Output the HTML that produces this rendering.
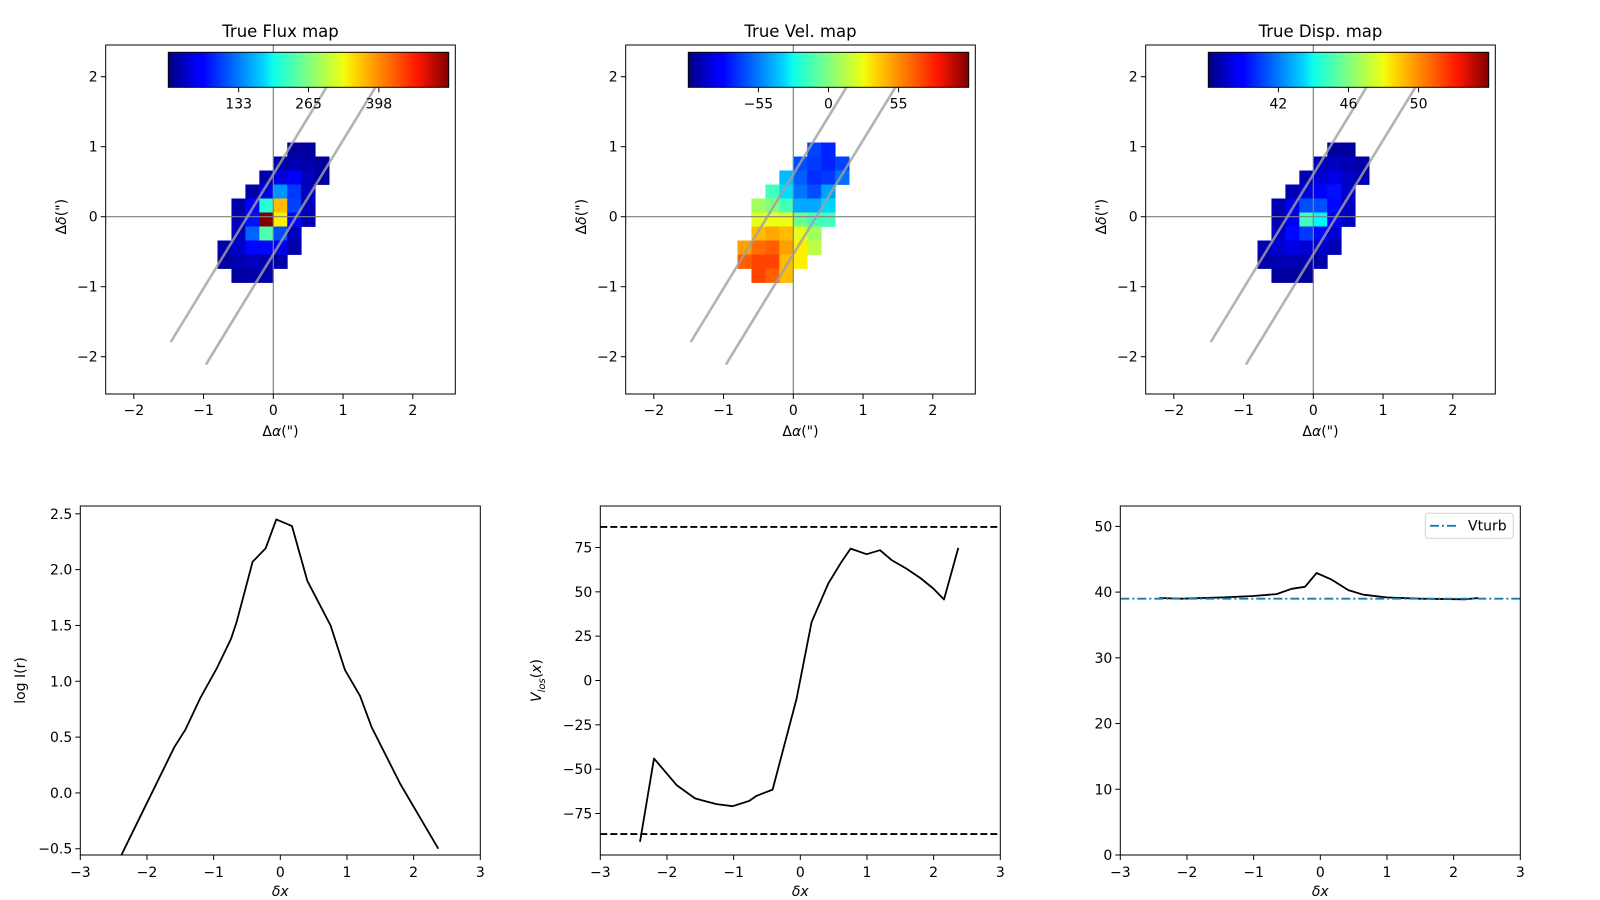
<!DOCTYPE html>
<html><head><meta charset="utf-8"><style>
html,body{margin:0;padding:0;background:#fff;}
svg{display:block;font-family:"DejaVu Sans","Liberation Sans",sans-serif;}
</style></head><body>
<svg id="fig" width="1600" height="900" viewBox="0 0 1600 900" xmlns="http://www.w3.org/2000/svg">
<defs>
<linearGradient id="jetgrad" x1="0" y1="0" x2="1" y2="0">
<stop offset="0" stop-color="#000080"/><stop offset="0.11" stop-color="#0000ff"/><stop offset="0.125" stop-color="#0000ff"/>
<stop offset="0.34" stop-color="#00d4ff"/><stop offset="0.375" stop-color="#0dffea"/><stop offset="0.5" stop-color="#80ff80"/><stop offset="0.625" stop-color="#f0ff0d"/>
<stop offset="0.66" stop-color="#ffdb00"/><stop offset="0.89" stop-color="#ff1400"/><stop offset="1" stop-color="#800000"/>
</linearGradient>
</defs>
</svg>
<script>
// ---- data ----
const n = null;
const fluxGrid = [
 [n,n,n,n,n,16,16,n],
 [n,n,n,n,21,26,21,16],
 [n,n,n,21,48,64,32,16],
 [n,n,21,53,143,95,32,n],
 [n,21,64,220,366,100,32,n],
 [n,32,74,530,340,69,26,n],
 [n,32,117,240,106,32,n,n],
 [21,40,69,69,60,21,n,n],
 [16,26,32,26,21,n,n,n],
 [n,16,21,21,n,n,n,n]];
const velGrid = [
 [n,n,n,n,n,-68,-75,n],
 [n,n,n,n,-66,-70,-75,-68],
 [n,n,n,-42,-62,-73,-70,-58],
 [n,n,-13,-35,-57,-66,-48,n],
 [n,7,0,-13,-46,-46,-37,n],
 [n,22,24,24,-4,-13,-13,n],
 [n,42,46,42,22,7,n,n],
 [48,59,62,48,31,13,n,n],
 [62,68,68,42,31,n,n,n],
 [n,68,62,42,n,n,n,n]];
const dispGrid = [
 [n,n,n,n,n,38.5,38.5,n],
 [n,n,n,n,38.8,39,38.8,38.6],
 [n,n,n,38.8,39.3,39.6,39.1,38.8],
 [n,n,38.8,39.4,40.0,40.2,39.1,n],
 [n,38.8,39.6,41.2,41.2,40.1,39.1,n],
 [n,38.8,39.9,45.0,43.9,39.9,39.0,n],
 [n,39.1,40.1,40.9,40.1,39.3,n,n],
 [38.8,39.3,39.6,39.3,39.1,38.8,n,n],
 [38.6,38.8,38.8,38.8,38.6,n,n,n],
 [n,38.5,38.5,38.5,n,n,n,n]];
const fluxRange = [0,530], velRange = [-110,110], dispRange = [38,54];
const fluxCbTicks = [133,265,398], velCbTicks = [-55,0,55], dispCbTicks = [42,46,50];
const mapTicks = [-2,-1,0,1,2];

const profX = [-2.42,-2.19,-1.59,-1.42,-1.2,-0.95,-0.74,-0.655,-0.415,-0.22,-0.06,0.175,0.405,0.755,0.97,1.195,1.37,1.8,2.37];
const logI  = [-0.6,-0.32,0.41,0.57,0.85,1.12,1.38,1.53,2.07,2.19,2.45,2.39,1.90,1.50,1.10,0.87,0.59,0.08,-0.50];
const velX = [-2.405,-2.195,-1.855,-1.58,-1.43,-1.255,-1.015,-0.765,-0.655,-0.415,-0.055,0.17,0.42,0.62,0.755,0.995,1.195,1.37,1.585,1.8,1.995,2.155,2.37];
const velV = [-91,-44,-59,-66.5,-68,-69.7,-70.9,-67.9,-65,-61.5,-10.2,33,54.7,67,74.4,71.2,73.5,67.9,63.2,57.8,51.9,45.7,74.8];
const velLimits = [86.6,-86.6];
const dispX = [-2.415,-2.08,-1.455,-1.005,-0.655,-0.43,-0.23,-0.055,0.17,0.42,0.645,0.995,1.495,2.17,2.37];
const dispD = [39.1,39.0,39.2,39.4,39.7,40.5,40.8,42.9,41.9,40.3,39.6,39.2,39.0,38.9,39.1];
const vturb = 39.0;
const xTicksBottom = [-3,-2,-1,0,1,2,3];
const logTicks = [-0.5,0,0.5,1,1.5,2,2.5];
const velTicks = [-75,-50,-25,0,25,50,75];
const dispTicks = [0,10,20,30,40,50];

// ---- helpers ----
const NS = "http://www.w3.org/2000/svg";
const svg = document.getElementById('fig');
function mk(tag, attrs, parent){
  const e = document.createElementNS(NS, tag);
  for (const k in attrs) e.setAttribute(k, attrs[k]);
  (parent||svg).appendChild(e);
  return e;
}
function txt(s, x, y, opt, parent){
  const e = mk('text', Object.assign({x:x, y:y, 'font-size':14, fill:'#000'}, opt||{}), parent);
  e.textContent = s;
  return e;
}
function clamp(v){return Math.max(0,Math.min(1,v));}
function jet(t){
  const r = clamp(1.5-Math.abs(4*t-3)), g = clamp(1.5-Math.abs(4*t-2)), b = clamp(1.5-Math.abs(4*t-1));
  return 'rgb('+Math.round(r*255)+','+Math.round(g*255)+','+Math.round(b*255)+')';
}
function fmt(v, d){ const s = (d!==undefined) ? Math.abs(v).toFixed(d) : String(Math.abs(v)); return (v<0?'\u2212':'')+s; }

// ---- map panels ----
function mapPanel(off, title, grid, range, cbTicks, key){
  const g = mk('g', {});
  
  
  const x0 = 273.3+off, y0 = 216.7, s = 69.75, sy = 70;
  const X = v => x0 + s*v, Y = v => y0 - sy*v;
  const L = 105.7+off, T = 45, W = 349.6, H = 349;
  const cp = mk('clipPath', {id:'clip-'+key}, g);
  mk('rect', {x:L, y:T, width:W, height:H}, cp);
  const cells = mk('g', {'clip-path':'url(#clip-'+key+')'}, g);
  for (let r=0;r<grid.length;r++) for (let c=0;c<grid[r].length;c++){
    const v = grid[r][c]; if (v===null) continue;
    const t = (v-range[0])/(range[1]-range[0]);
    const xl = -0.8+0.2*c, yt = 1.06-0.2*r;
    const cell = mk('rect', {x:X(xl), y:Y(yt), width:X(xl+0.2)-X(xl)+0.4, height:Y(yt-0.2)-Y(yt)+0.4, fill:jet(t)}, cells);
    
    
  }
  const ax1 = mk('line', {x1:L, x2:L+W, y1:Y(0), y2:Y(0), stroke:'#808080', 'stroke-width':1.2}, cells);
  
  
  const ax2 = mk('line', {x1:X(0), x2:X(0), y1:T, y2:T+H, stroke:'#808080', 'stroke-width':1.2}, cells);
  
  
  const slope = 1.63;
  [[-1.47,-1.79],[-0.965,-2.11]].forEach(p=>{
    const yEnd = 2.0, xEnd = p[0]+(yEnd-p[1])/slope;
    const sl = mk('line', {x1:X(p[0]), y1:Y(p[1]), x2:X(xEnd), y2:Y(yEnd), stroke:'#a0a0a0', 'stroke-width':2.6, 'stroke-opacity':0.8}, cells);
    
    
  });
  const frame = mk('rect', {x:L, y:T, width:W, height:H, fill:'none', stroke:'#000', 'stroke-width':1}, g);
  
  
  mapTicks.forEach(v=>{
    mk('line', {x1:X(v), x2:X(v), y1:T+H, y2:T+H+5, stroke:'#000'}, g);
    const tl = txt(fmt(v), X(v), T+H+21, {'text-anchor':'middle'}, g);
    
    
    mk('line', {x1:L-5, x2:L, y1:Y(v), y2:Y(v), stroke:'#000'}, g);
    const yl = txt(fmt(v), L-8, Y(v)+5, {'text-anchor':'end'}, g);
    
    
  });
  const tt = txt(title, L+W/2, 37, {'text-anchor':'middle', 'font-size':16.5}, g);
  
  
  const xl = txt('', L+W/2, 436, {'text-anchor':'middle'}, g);
  xl.innerHTML = '<tspan>Δ</tspan><tspan font-style="italic">α</tspan><tspan>(")</tspan>';
  
  
  const yl = txt('', 0, 0, {'text-anchor':'middle', transform:'translate('+(66+off)+','+(216.7)+') rotate(-90)'}, g);
  yl.innerHTML = '<tspan>Δ</tspan><tspan font-style="italic">δ</tspan><tspan>(")</tspan>';
  
  
  const cbL = 168.3+off, cbW = 280.4, cbT = 52.3, cbH = 35;
  const cb = mk('rect', {x:cbL, y:cbT, width:cbW, height:cbH, fill:'url(#jetgrad)', stroke:'#000', 'stroke-width':1}, g);
  
  
  cbTicks.forEach(v=>{
    const px = cbL + cbW*(v-range[0])/(range[1]-range[0]);
    mk('line', {x1:px, x2:px, y1:cbT+cbH, y2:cbT+cbH+5, stroke:'#000'}, g);
    const cl = txt(fmt(v), px, cbT+cbH+21, {'text-anchor':'middle'}, g);
    
    
  });
}
mapPanel(0, 'True Flux map', fluxGrid, fluxRange, fluxCbTicks, 'flux');
mapPanel(520, 'True Vel. map', velGrid, velRange, velCbTicks, 'vel');
mapPanel(1040, 'True Disp. map', dispGrid, dispRange, dispCbTicks, 'disp');

// ---- profile panels ----
function profPanel(L, yr, yTicks, key, ylabelHTML, ylabX, dec){
  const g = mk('g', {});
  
  
  const T = 506, W = 400, H = 349;
  const X = v => L + (v+3)/6*W, Y = v => T + H - (v-yr[0])/(yr[1]-yr[0])*H;
  const cp = mk('clipPath', {id:'clipb-'+key}, g);
  mk('rect', {x:L, y:T, width:W, height:H}, cp);
  const inner = mk('g', {'clip-path':'url(#clipb-'+key+')'}, g);
  const frame = mk('rect', {x:L, y:T, width:W, height:H, fill:'none', stroke:'#000', 'stroke-width':1}, g);
  
  
  xTicksBottom.forEach(v=>{
    mk('line', {x1:X(v), x2:X(v), y1:T+H, y2:T+H+5, stroke:'#000'}, g);
    const tl = txt(fmt(v), X(v), T+H+22, {'text-anchor':'middle'}, g);
    
    
  });
  yTicks.forEach(v=>{
    mk('line', {x1:L-5, x2:L, y1:Y(v), y2:Y(v), stroke:'#000'}, g);
    const yl = txt(fmt(v, dec), L-8, Y(v)+5, {'text-anchor':'end'}, g);
    
    
  });
  const xl = txt('', L+W/2, 896, {'text-anchor':'middle', 'font-style':'italic'}, g);
  xl.textContent = 'δx';
  
  
  const yl = txt('', 0, 0, {'text-anchor':'middle', transform:'translate('+ylabX+','+(T+H/2)+') rotate(-90)'}, g);
  yl.innerHTML = ylabelHTML;
  
  
  return {g, inner, X, Y};
}
function poly(p, xs, ys, attrs){
  const pts = xs.map((x,i)=>p.X(x).toFixed(1)+','+p.Y(ys[i]).toFixed(1)).join(' ');
  return mk('polyline', Object.assign({points:pts, fill:'none', stroke:'#000', 'stroke-width':1.8, 'stroke-linejoin':'round'}, attrs||{}), p.inner);
}
const p1 = profPanel(80.3, [-0.556,2.57], logTicks, 'flux', 'log I(r)', 25, 1);
const l1 = poly(p1, profX, logI);



const p2 = profPanel(600.3, [-98.4,98.4], velTicks, 'vel', '<tspan font-style="italic">V</tspan><tspan font-style="italic" font-size="10" dy="4">los</tspan><tspan dy="-4">(</tspan><tspan font-style="italic">x</tspan><tspan>)</tspan>', 541);
velLimits.forEach(v=>{
  const d = mk('line', {x1:600.3, x2:1000.3, y1:p2.Y(v), y2:p2.Y(v), stroke:'#000', 'stroke-width':1.8, 'stroke-dasharray':'7,3'}, p2.inner);
  
  
});
const l2 = poly(p2, velX, velV);



const p3 = profPanel(1120.3, [0,53.1], dispTicks, 'disp', '', 1090);
const l3 = poly(p3, dispX, dispD);


const vt = mk('line', {x1:1120.3, x2:1520.3, y1:p3.Y(vturb), y2:p3.Y(vturb), stroke:'#1f77b4', 'stroke-width':1.8, 'stroke-dasharray':'9,3,2,3'}, p3.inner);


const leg = mk('g', {});


mk('rect', {x:1425.3, y:513.3, width:88, height:25, rx:3, fill:'#fff', stroke:'#d0d0d0', 'stroke-width':1}, leg);
const ll = mk('line', {x1:1430, x2:1458, y1:525.8, y2:525.8, stroke:'#1f77b4', 'stroke-width':1.8, 'stroke-dasharray':'9,3,2,3'}, leg);


const lt = txt('Vturb', 1468, 530.5, {}, leg);


</script>
</body></html>
